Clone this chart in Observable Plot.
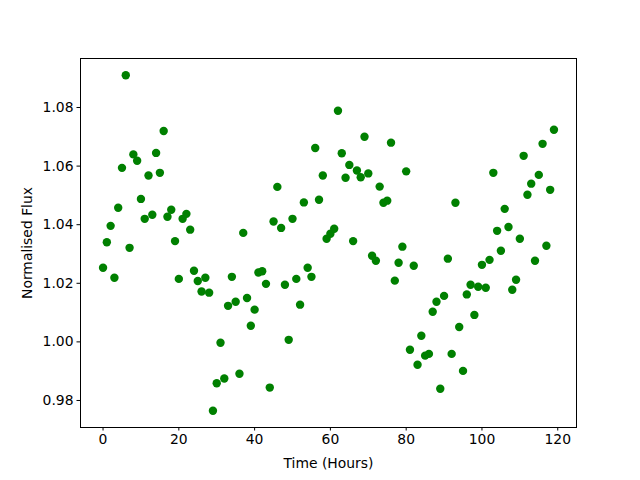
<!DOCTYPE html>
<html><head><meta charset="utf-8">
<script src="https://cdn.jsdelivr.net/npm/d3@7"></script>
<script src="https://cdn.jsdelivr.net/npm/@observablehq/plot@0.6"></script>
<style>body{margin:0;background:#fff}</style>
</head><body><div id="chart"></div>
<script>
const hours = [0,1,2,3,4,5,6,7,8,9,10,11,12,13,14,15,16,17,18,19,20,21,22,23,24,25,26,27,28,29,
30,31,32,33,34,35,36,37,38,39,40,41,42,43,44,45,46,47,48,49,50,51,52,53,54,55,56,57,58,59,
60,61,62,63,64,65,66,67,68,69,70,71,72,73,74,75,76,77,78,79,80,81,82,83,84,85,86,87,88,89,
90,91,92,93,94,95,96,97,98,99,100,101,102,103,104,105,106,107,108,109,110,111,112,113,114,115,116,117,118,119];
const flux = [1.0253,1.0340,1.0396,1.0219,1.0458,1.0594,1.0910,1.0321,1.0640,1.0618,
1.0488,1.0420,1.0568,1.0434,1.0645,1.0577,1.0720,1.0427,1.0451,1.0344,
1.0215,1.0420,1.0437,1.0383,1.0243,1.0208,1.0172,1.0219,1.0168,0.9765,
0.9859,0.9997,0.9875,1.0123,1.0222,1.0137,0.9891,1.0372,1.0150,1.0055,
1.0110,1.0237,1.0241,1.0198,0.9844,1.0411,1.0529,1.0389,1.0195,1.0007,
1.0420,1.0215,1.0127,1.0476,1.0253,1.0222,1.0662,1.0485,1.0568,1.0352,
1.0369,1.0386,1.0789,1.0644,1.0560,1.0604,1.0344,1.0585,1.0562,1.0700,
1.0575,1.0294,1.0277,1.0530,1.0475,1.0482,1.0680,1.0209,1.0270,1.0325,
1.0582,0.9973,1.0260,0.9922,1.0021,0.9953,0.9959,1.0103,1.0137,0.9840,
1.0157,1.0284,0.9959,1.0475,1.0051,0.9901,1.0162,1.0195,1.0092,1.0188,
1.0263,1.0185,1.0280,1.0577,1.0379,1.0311,1.0454,1.0392,1.0178,1.0212,
1.0352,1.0635,1.0502,1.0540,1.0277,1.0570,1.0676,1.0328,1.0519,1.0724];
const xTicks = [0,20,40,60,80,100,120];
const yTicks = [0.98,1.00,1.02,1.04,1.06,1.08];

const data = hours.map((t, i) => ({t, f: flux[i]}));
function pad(ext, m) { const d = (ext[1] - ext[0]) * m; return [ext[0] - d, ext[1] + d]; }
const xDomain = pad(d3.extent(hours), 0.05);
const yDomain = pad(d3.extent(flux), 0.05);

const chart = Plot.plot({
  width: 640, height: 480,
  marginLeft: 80, marginRight: 64, marginTop: 58, marginBottom: 53,
  style: {fontFamily: "DejaVu Sans", fontSize: "13.9px", background: "#fff", color: "#000", overflow: "visible"},
  x: {domain: xDomain},
  y: {domain: yDomain},
  marks: [
    Plot.dot(data, {x: "t", y: "f", r: 4.2, fill: "green"}),
    Plot.frame({stroke: "#000", strokeWidth: 1}),
    Plot.axisX(xTicks, {tickSize: 3.5, tickPadding: 3.5, fontSize: 13.9, label: "Time (Hours)", labelAnchor: "center", labelArrow: "none", labelOffset: 40}),
    Plot.axisY(yTicks, {tickSize: 3.5, tickPadding: 3.5, fontSize: 13.9, tickFormat: d3.format(".2f"), label: "Normalised Flux", labelAnchor: "center", labelArrow: "none", labelOffset: 58.5})
  ]
});
document.getElementById("chart").append(chart);
</script>
</body></html>
